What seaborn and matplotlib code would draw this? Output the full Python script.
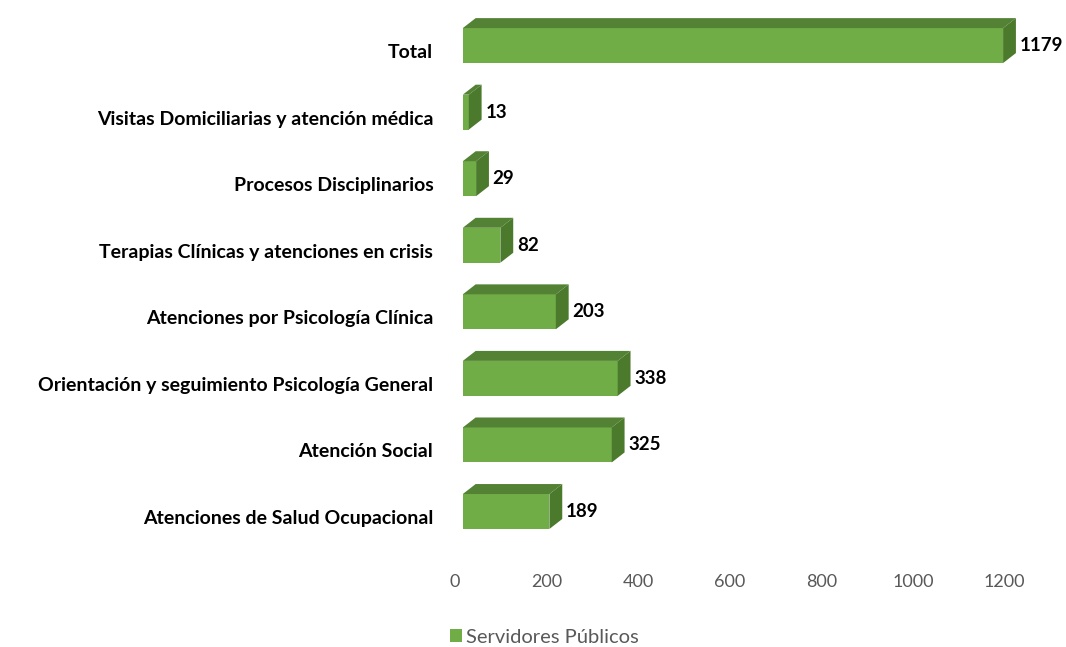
import matplotlib
matplotlib.use('Agg')
import matplotlib.pyplot as plt
from matplotlib.patches import Polygon, Patch
from matplotlib.transforms import ScaledTranslation, blended_transform_factory
import seaborn as sns
import pandas as pd

# Datos (de arriba a abajo)
categorias = [
    "Total",
    "Visitas Domiciliarias y atención médica",
    "Procesos Disciplinarios",
    "Terapias Clínicas y atenciones en crisis",
    "Atenciones por Psicología Clínica",
    "Orientación y seguimiento Psicología General",
    "Atención Social",
    "Atenciones de Salud Ocupacional",
]
valores = [1179, 13, 29, 82, 203, 338, 325, 189]
serie = "Servidores Públicos"
ticks_x = [0, 200, 400, 600, 800, 1000, 1200]

df = pd.DataFrame({"categoria": categorias, "valor": valores})

verde = "#70AD47"
verde_top = "#548235"
verde_lado = "#4B7A2D"

sns.set_theme(style="white")
plt.rcParams['font.family'] = ['Lato', 'DejaVu Sans']

fig = plt.figure(figsize=(10.66, 6.47), dpi=100)
ax = fig.add_axes([0.429, 0.158, 0.564, 0.823])

sns.barplot(data=df, x="valor", y="categoria", orient="h", color=verde,
            width=0.525, saturation=1, ax=ax, edgecolor="none")

ax.set_xlim(-12, 1300)
dx = 28      # profundidad en unidades de datos (x)
dy = 0.15    # profundidad en unidades de categoría (y)

for bar, v in zip(ax.patches, valores):
    x0 = bar.get_x()
    x1 = x0 + bar.get_width()
    yt = bar.get_y()
    yb = yt + bar.get_height()
    top = Polygon([(x0, yt), (x1, yt), (x1 + dx, yt - dy), (x0 + dx, yt - dy)],
                  closed=True, facecolor=verde_top, edgecolor="none")
    side = Polygon([(x1, yt), (x1 + dx, yt - dy), (x1 + dx, yb - dy), (x1, yb)],
                   closed=True, facecolor=verde_lado, edgecolor="none")
    ax.add_patch(top)
    ax.add_patch(side)
    ax.text(x1 + dx + 8, (yt + yb) / 2, f"{v}", va="center", ha="left",
            fontsize=13.5, fontweight="bold", color="black")

# Etiquetas de categoría (desplazadas hacia el "piso" del 3D)
ax.set_yticks(range(len(categorias)))
ax.set_yticklabels([])
tr_y = blended_transform_factory(ax.transAxes, ax.transData) + \
    ScaledTranslation(-0.24, -0.07, fig.dpi_scale_trans)
for i, cat in enumerate(categorias):
    ax.text(0, i, cat, transform=tr_y, ha="right", va="center",
            fontsize=14, fontweight="bold", color="black")

# Etiquetas del eje x
ax.set_xticks(ticks_x)
ax.set_xticklabels([])
tr_x = blended_transform_factory(ax.transData, ax.transAxes) + \
    ScaledTranslation(-0.08, -0.37, fig.dpi_scale_trans)
for t in ticks_x:
    ax.text(t, 0, f"{t}", transform=tr_x, ha="center", va="center",
            fontsize=13, color="#595959")

ax.tick_params(length=0)
ax.set_xlabel("")
ax.set_ylabel("")
sns.despine(ax=ax, left=True, bottom=True)

fig.legend(handles=[Patch(facecolor=verde, edgecolor="none", label=serie)],
           loc="lower left", bbox_to_anchor=(0.405, -0.026), frameon=False,
           handlelength=0.6, handleheight=0.6, handletextpad=0.2,
           fontsize=14.5, labelcolor="#595959")

fig.savefig("out.png", dpi=100)
